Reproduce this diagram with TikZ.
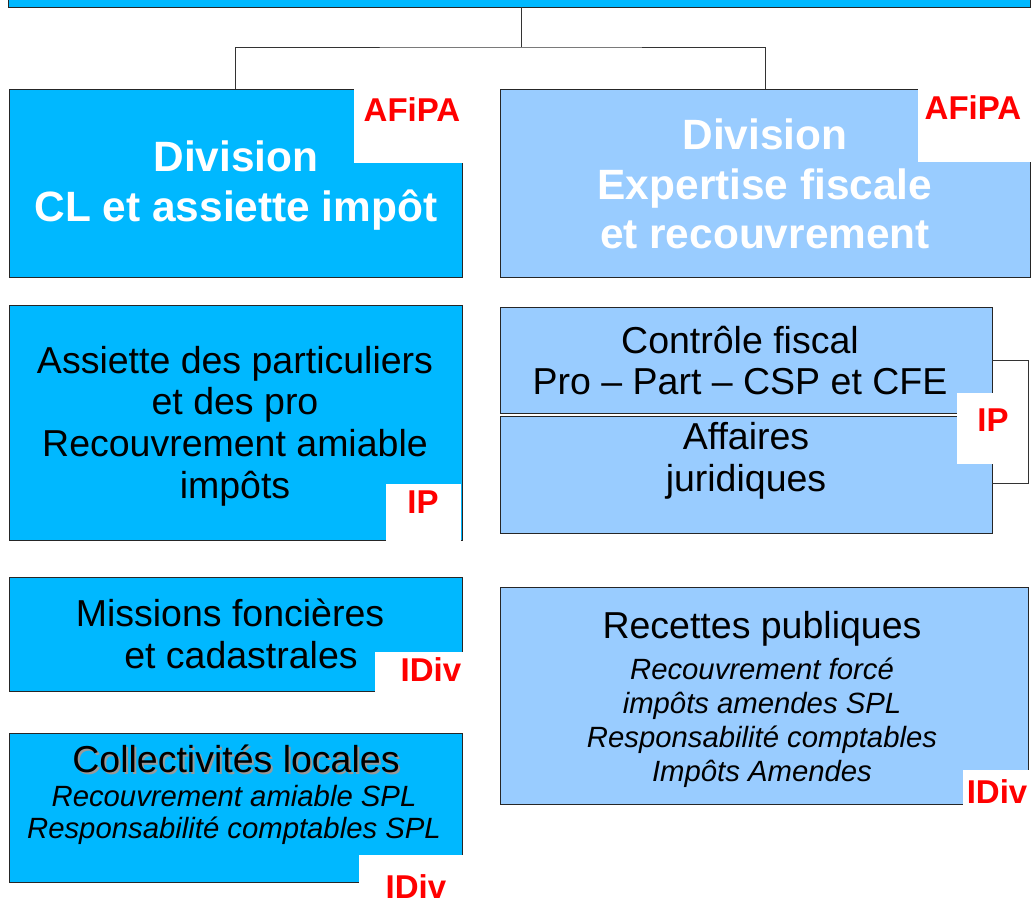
\documentclass[tikz,border=0pt]{standalone}
\usepackage{fontspec}
\setmainfont{Liberation Sans}
\definecolor{cyanbox}{RGB}{0,184,255}
\definecolor{lightbox}{RGB}{153,204,255}
\definecolor{tagred}{RGB}{255,0,0}
\begin{document}
\begin{tikzpicture}[x=1pt,y=-1pt,
  box/.style={draw=black!85, line width=1pt, inner sep=0pt, outer sep=0pt, anchor=north west},
  cbox/.style={box, fill=cyanbox},
  lbox/.style={box, fill=lightbox},
  tag/.style={fill=white, draw=none, inner sep=0pt, outer sep=0pt, anchor=north west},
  tagtext/.style={text=tagred, font=\bfseries\fontsize{33}{36}\selectfont, inner sep=0pt},
  divtext/.style={text=white, align=center, inner sep=0pt, font=\bfseries\fontsize{42.4}{50}\selectfont},
  maintext/.style={text=black, align=center, inner sep=0pt, font=\fontsize{37.5}{41.7}\selectfont},
  subtext/.style={text=black, align=center, inner sep=0pt, font=\itshape\fontsize{29.3}{33}\selectfont},
  conn/.style={draw=black!80, line width=1pt}
]
\useasboundingbox (0,0) rectangle (1033,906);
\clip (0,0) rectangle (1033,906);

% junction coordinates
\coordinate (j) at (521,47);
\coordinate (b1) at (1028,360);
\coordinate (b2) at (1028,483);

% boxes
\node[cbox, minimum width=1022, minimum height=17] (top) at (8,-10) {};
\node[cbox, minimum width=453, minimum height=188] (divL) at (9,89) {};
\node[lbox, minimum width=530, minimum height=188] (divR) at (500,89) {};
\node[cbox, minimum width=453, minimum height=235] (assL) at (9,305) {};
\node[lbox, minimum width=492, minimum height=106] (ctrl) at (500,307) {};
\node[lbox, minimum width=492, minimum height=117] (aff) at (500,416) {};
\node[cbox, minimum width=453, minimum height=114] (miss) at (9,577) {};
\node[cbox, minimum width=453, minimum height=149] (coll) at (9,733) {};
\node[lbox, minimum width=528, minimum height=217] (rec) at (500,587) {};

% connectors
\draw[conn] (top.south -| j) -- (j);
\draw[conn] (divL.north) |- (j) -| (divR.north);
\draw[conn] (ctrl.east |- b1) -- (b1) -- (b2) -- (aff.east |- b2);

% white tags
\node[tag, minimum width=109, minimum height=75] (tAL) at (354,88) {};
\node[tag, minimum width=115, minimum height=74] (tAR) at (918,88) {};
\node[tag, minimum width=75, minimum height=57] (tIPL) at (386,484) {};
\node[tag, minimum width=67, minimum height=71] (tIPR) at (957,393) {};
\node[tag, minimum width=88, minimum height=40] (tDM) at (375,652) {};
\node[tag, minimum width=104, minimum height=60] (tDC) at (359,855) {};
\node[tag, minimum width=70, minimum height=40] (tDR) at (963,770) {};

% tag texts
\node[tagtext] (lAL) at (412,110) {AFiPA};
\node[tagtext] (lAR) at (973,108) {AFiPA};
\node[tagtext] (lIPL) at (423,502) {IP};
\node[tagtext] (lIPR) at (993,420) {IP};
\node[tagtext] (lDM) at (431,670) {IDiv};
\node[tagtext] (lDC) at (416,887) {IDiv};
\node[tagtext] (lDR) at (997,792) {IDiv};

% box texts
\node[divtext] (divLt) at (236,186) {Division\\CL et assiette impôt};
\node[divtext, font=\bfseries\fontsize{42.4}{49.5}\selectfont] (divRt) at (765,184) {Division\\Expertise fiscale\\et recouvrement};
\node[maintext] (assLt) at (235,426) {Assiette des particuliers\\et des pro\\Recouvrement amiable\\impôts};
\node[maintext, font=\fontsize{37.5}{41}\selectfont] (ctrlt) at (740,361) {Contrôle fiscal\\Pro – Part – CSP et CFE};
\node[maintext, font=\fontsize{37.5}{42}\selectfont] (afft) at (746,461) {Affaires\\juridiques};
\node[maintext, font=\fontsize{37.5}{42}\selectfont] (misst) at (230,634) {Missions foncières\\\hspace*{22pt}et cadastrales};
\node[maintext, text=black!40] (colls) at (238,761) {Collectivités locales};
\node[maintext] (collt) at (236,759) {Collectivités locales};
\node[subtext, font=\itshape\fontsize{29.3}{32}\selectfont] (collit) at (234,815) {Recouvrement amiable SPL\\Responsabilité comptables SPL};
\node[maintext] (rect) at (762,629) {Recettes publiques};
\node[subtext, font=\itshape\fontsize{29.3}{34}\selectfont] (recit) at (762,723) {Recouvrement forcé\\impôts amendes SPL\\Responsabilité comptables\\Impôts Amendes};
\end{tikzpicture}
\end{document}
